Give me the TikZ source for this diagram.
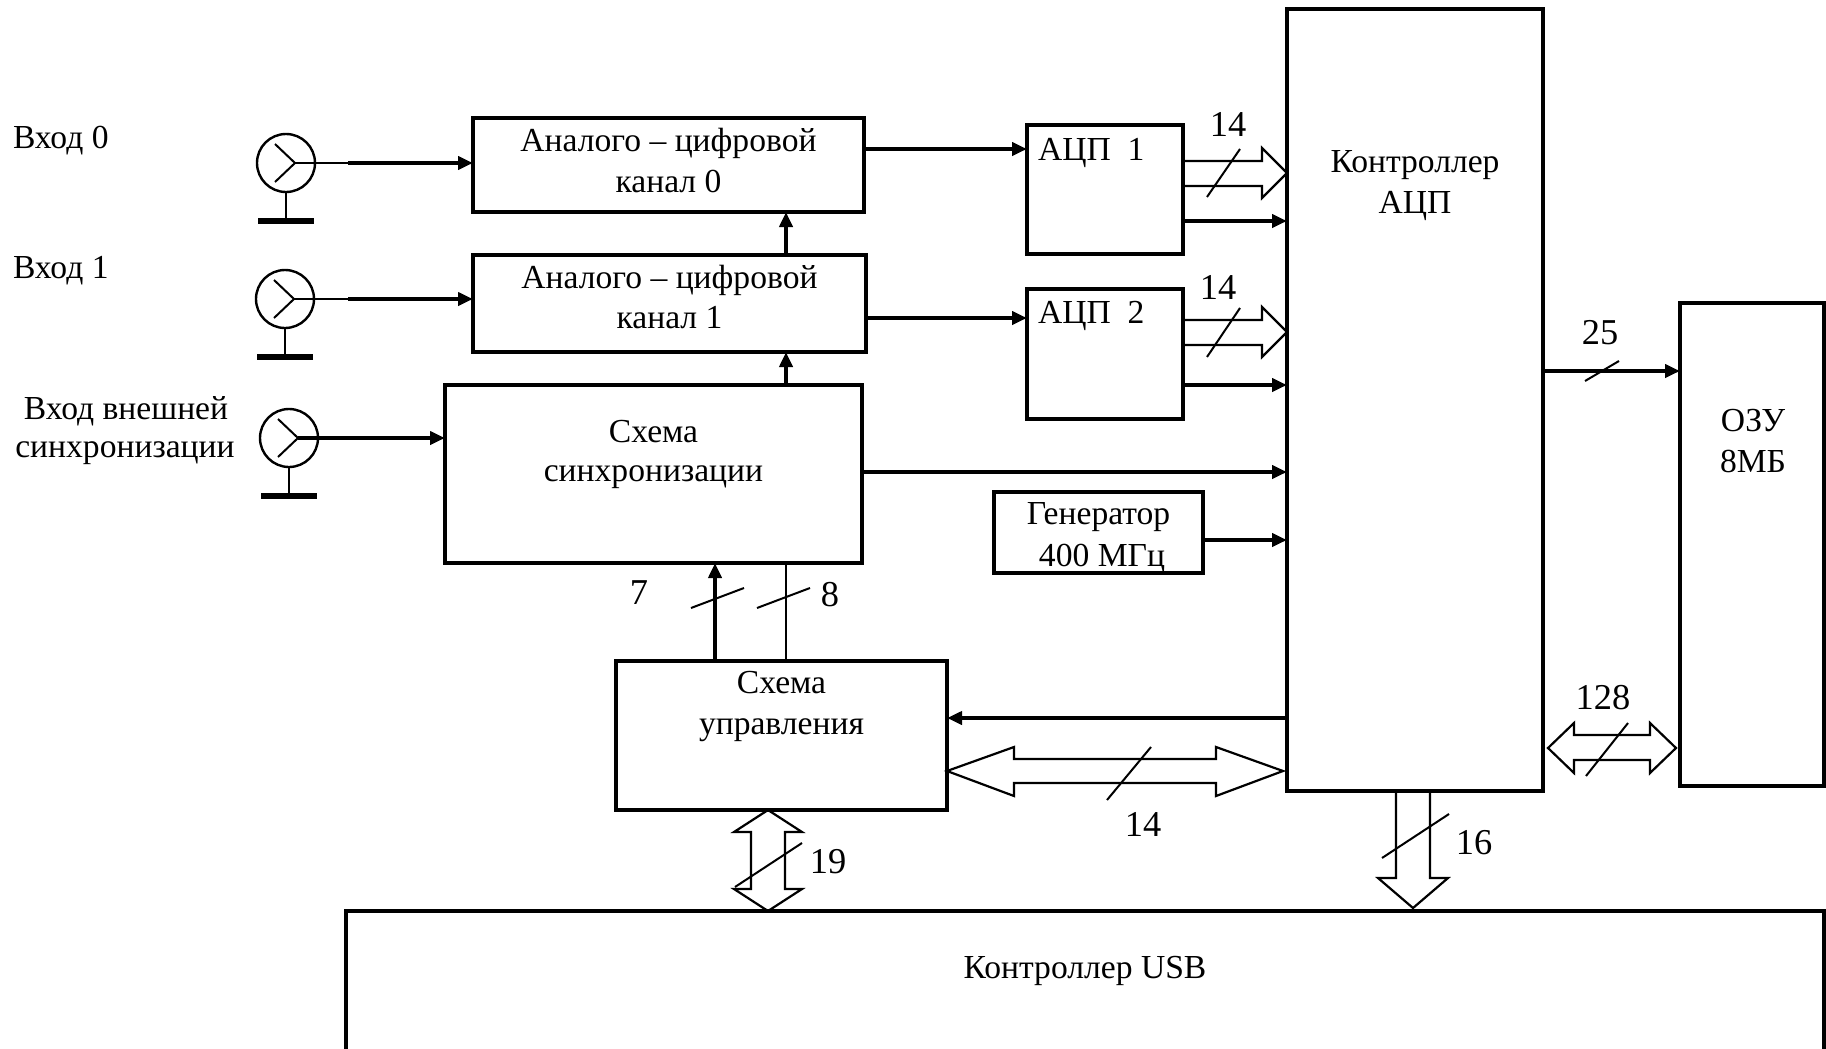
\documentclass[tikz,border=0pt]{standalone}
\usepackage{fontspec}
\setmainfont{Liberation Serif}
\usetikzlibrary{arrows.meta}
\tikzset{
  box/.style={draw, line width=1.6pt, inner sep=0pt, outer sep=0pt},
  txt/.style={inner sep=0pt, outer sep=0pt, font=\fontsize{16.8}{19}\selectfont, anchor=base},
  lbl/.style={inner sep=0pt, outer sep=0pt, font=\fontsize{18.2}{20}\selectfont, anchor=base},
  arr/.style={line width=2.2pt, -{Triangle[length=7.5pt,width=6.5pt]}},
  thinln/.style={line width=1pt},
  bus/.style={line width=1.1pt, line join=miter, miter limit=10},
  gnd/.style={line width=2.6pt},
  inp/.style={circle, draw, line width=1.2pt, minimum size=29pt, inner sep=0pt, outer sep=0pt},
}
\begin{document}
\begin{tikzpicture}[x=0.5pt,y=-0.5pt]
\fill[white] (0,0) rectangle (1826,1049);
\useasboundingbox (0,0) rectangle (1826,1049);
\clip (0,0) rectangle (1826,1049);

% ---------- boxes ----------
\node[box, minimum width=195.5pt, minimum height=47pt]   (ch0)  at (668.5,165) {};
\node[box, minimum width=196.5pt, minimum height=48.5pt] (ch1)  at (669.5,303.5) {};
\node[box, minimum width=208.5pt, minimum height=89pt]   (sync) at (653.5,474) {};
\node[box, minimum width=78pt, minimum height=64.5pt]    (adc1) at (1105,189.5) {};
\node[box, minimum width=78pt, minimum height=65pt]      (adc2) at (1105,354) {};
\node[box, minimum width=128pt, minimum height=391pt]    (ctrl) at (1415,400) {};
\node[box, minimum width=72pt, minimum height=241.5pt]   (ram)  at (1752,544.5) {};
\node[box, minimum width=104.5pt, minimum height=40.5pt] (gen)  at (1098.5,532.5) {};
\node[box, minimum width=165.5pt, minimum height=74.5pt] (ctl)  at (781.5,735.5) {};
\node[box, minimum width=739pt, minimum height=94.5pt]   (usb)  at (1085,1005.5) {};

% ---------- texts ----------
\node[txt, anchor=base west] (t0)  at (13,148) {Вход 0};
\node[txt, anchor=base west] (t1)  at (13,278) {Вход 1};
\node[txt] (t2a) at (126,419) {Вход внешней};
\node[txt] (t2b) at (125,457) {синхронизации};

\node[txt] (ch0a) at (668.5,151) {Аналого – цифровой};
\node[txt] (ch0b) at (668.5,192) {канал 0};
\node[txt] (ch1a) at (669.5,288) {Аналого – цифровой};
\node[txt] (ch1b) at (669.5,328) {канал 1};
\node[txt] (synca) at (653.5,442) {Схема};
\node[txt] (syncb) at (653.5,481) {синхронизации};
\node[txt, anchor=base west] (adc1t) at (1038,160) {АЦП~~1};
\node[txt, anchor=base west] (adc2t) at (1038,323) {АЦП~~2};
\node[txt] (ctrla) at (1415,172) {Контроллер};
\node[txt] (ctrlb) at (1415,213) {АЦП};
\node[txt] (rama) at (1753,431) {ОЗУ};
\node[txt] (ramb) at (1753,472) {8МБ};
\node[txt] (gena) at (1098.5,524) {Генератор};
\node[txt] (genb) at (1102,566) {400 МГц};
\node[txt] (ctla) at (781.5,693) {Схема};
\node[txt] (ctlb) at (781.5,734) {управления};
\node[txt] (usbt) at (1085,978) {Контроллер USB};

% ---------- inputs ----------
\node[inp] (in0) at (286,163) {};
\node[inp] (in1) at (285,299) {};
\node[inp] (in2) at (289,438) {};
\foreach \n in {in0,in1,in2}{
  \draw[thinln] (\n.center) ++(-11,-19) -- ++(20,19) -- ++(-20,19);
  \draw[thinln] (\n.south) -- ++(0,29);
  \draw[gnd] (\n.south) ++(-28,29) -- ++(56,0);
}
\coordinate (j0) at (348,163);
\coordinate (j1) at (348,299);
\draw[thinln] (in0.center) ++(9,0) -- (j0);
\draw[arr] (j0) -- (ch0.west |- j0);
\draw[thinln] (in1.center) ++(9,0) -- (j1);
\draw[arr] (j1) -- (ch1.west |- j1);
\draw[arr] (in2.center) ++(9,0) -- (sync.west |- in2);

% ---------- single connectors ----------
\draw[arr] (ch0.east |- 0,149) -- (adc1.west |- 0,149);
\draw[arr, line width=1.9pt] (ch1.east |- 0,318) -- (adc2.west |- 0,318);
\draw[arr] (ch1.north -| 786,0) -- (ch0.south -| 786,0);
\draw[arr] (sync.north -| 786,0) -- (ch1.south -| 786,0);
\draw[arr] (adc1.east |- 0,221) -- (ctrl.west |- 0,221);
\draw[arr] (adc2.east |- 0,385) -- (ctrl.west |- 0,385);
\draw[arr] (sync.east |- 0,472) -- (ctrl.west |- 0,472);
\draw[arr] (gen.east |- 0,540) -- (ctrl.west |- 0,540);
\draw[arr] (ctrl.east |- 0,371) -- (ram.west |- 0,371);
\draw[arr] (ctrl.west |- 0,718) -- (ctl.east |- 0,718);
\draw[arr] (ctl.north -| 715,0) -- (sync.south -| 715,0);
\draw[thinln] (ctl.north -| 786,0) -- (sync.south -| 786,0);

% ---------- buses ----------
% ADC1 -> controller
\draw[bus] (adc1.east |- 0,161) -- (1262,161) -- (1262,148) -- (ctrl.west |- 0,173)
  -- (1262,198) -- (1262,186) -- (adc1.east |- 0,186);
\draw[thinln] (1207,197) -- (1240,149);
% ADC2 -> controller
\draw[bus] (adc2.east |- 0,320) -- (1262,320) -- (1262,307) -- (ctrl.west |- 0,332)
  -- (1262,357) -- (1262,345) -- (adc2.east |- 0,345);
\draw[thinln] (1207,357) -- (1240,308);
% control <-> controller
\draw[bus] (ctl.east |- 0,771) -- (1014,747) -- (1014,759) -- (1216,759) -- (1216,747)
  -- (1283,771) -- (1216,796) -- (1216,783) -- (1014,783) -- (1014,796) -- cycle;
\draw[thinln] (1107,800) -- (1151,747);
% controller <-> RAM
\draw[bus] (1548,748) -- (1574,723) -- (1574,735) -- (1650,735) -- (1650,723)
  -- (1676,748) -- (1650,773) -- (1650,760) -- (1574,760) -- (1574,773) -- cycle;
\draw[thinln] (1586,776) -- (1628,723);
% controller -> USB
\draw[bus] (ctrl.south -| 1396,0) -- (1396,878) -- (1378,878) -- (1413,908)
  -- (1448,878) -- (1430,878) -- (ctrl.south -| 1430,0);
\draw[thinln] (1382,858) -- (1449,814);
% control <-> USB
\draw[bus] (ctl.south -| 768,0) -- (802,832) -- (785,832) -- (785,889) -- (802,889)
  -- (usb.north -| 768,0) -- (734,889) -- (751,889) -- (751,832) -- (734,832) -- cycle;
\draw[thinln] (735,887) -- (802,843);
% bus slashes on 7 / 8 / 25
\draw[thinln] (691,608) -- (744,588);
\draw[thinln] (757,608) -- (810,588);
\draw[thinln] (1585,381) -- (1619,361);

% ---------- labels ----------
\node[lbl] (l14a) at (1228,136) {14};
\node[lbl] (l14b) at (1218,299) {14};
\node[lbl] (l25)  at (1600,344) {25};
\node[lbl] (l128) at (1603,709) {128};
\node[lbl] (l14c) at (1143,836) {14};
\node[lbl] (l16)  at (1474,854) {16};
\node[lbl] (l19)  at (828,873) {19};
\node[lbl] (l7)   at (639,604) {7};
\node[lbl] (l8)   at (830,606) {8};
\end{tikzpicture}
\end{document}
